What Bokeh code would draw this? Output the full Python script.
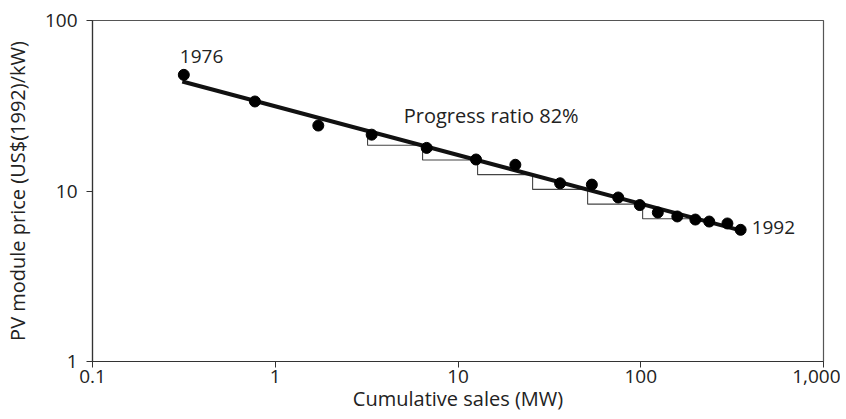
from bokeh.plotting import figure
from bokeh.models import Range1d, FixedTicker, ColumnDataSource
from bokeh.core.properties import value
from bokeh.embed import file_html
from bokeh.resources import INLINE

# Cumulative sales (MW) and PV module price (US$(1992)/kW), 1976-1992
years = list(range(1976, 1993))
sales = [0.316, 0.774, 1.72, 3.37, 6.74, 12.55, 20.6, 36.2, 54.0, 75.3, 98.8,
         124, 158.5, 199, 237, 298, 352]
price = [48.0, 33.5, 24.2, 21.4, 17.9, 15.3, 14.25, 11.1, 10.9, 9.16, 8.27,
         7.48, 7.09, 6.80, 6.62, 6.45, 5.92]

# Experience curve (progress ratio 82%) end points
fit_x = [0.31, 355]
fit_y = [43.9, 5.86]

# Staircase under the curve (each doubling of cumulative sales)
step_x = [3.2, 6.4, 12.8, 25.6, 51.2, 102.4, 204.8]
step_y = [22.6, 18.55, 15.2, 12.47, 10.22, 8.38, 6.88]

x_ticks = [0.1, 1, 10, 100, 1000]
x_tick_labels = ["0.1", "1", "10", "100", "1,000"]
y_ticks = [1, 10, 100]
y_tick_labels = ["1", "10", "100"]

FONT = "Open Sans"
TXT = "#222222"

p = figure(width=840, height=418, x_axis_type="log", y_axis_type="log",
           x_range=Range1d(0.1, 1000), y_range=Range1d(1, 100),
           output_backend="svg", toolbar_location=None,
           min_border_left=92, min_border_right=17,
           min_border_top=20, min_border_bottom=57)

p.xgrid.visible = False
p.ygrid.visible = False
p.outline_line_color = "#555555"
p.outline_line_width = 1.2
p.background_fill_color = "white"
p.border_fill_color = "white"

p.xaxis.ticker = FixedTicker(ticks=x_ticks, minor_ticks=[])
p.yaxis.ticker = FixedTicker(ticks=y_ticks, minor_ticks=[])
p.xaxis.major_label_overrides = dict(zip(x_ticks, x_tick_labels))
p.yaxis.major_label_overrides = dict(zip(y_ticks, y_tick_labels))

for ax in (p.xaxis[0], p.yaxis[0]):
    ax.axis_line_color = "#333333"
    ax.axis_line_width = 1.2
    ax.major_tick_line_color = "#333333"
    ax.major_tick_in = 0
    ax.major_tick_out = 6
    ax.minor_tick_in = 0
    ax.minor_tick_out = 0
    ax.major_label_text_font = FONT
    ax.major_label_text_font_size = "19px"
    ax.major_label_text_color = TXT
    ax.axis_label_text_font = FONT
    ax.axis_label_text_font_size = "20px"
    ax.axis_label_text_font_style = "normal"
    ax.axis_label_text_color = TXT

p.xaxis.axis_label = "Cumulative sales (MW)"
p.yaxis.axis_label = "PV module price (US$(1992)/kW)"
p.xaxis.major_label_standoff = 2
p.xaxis.axis_label_standoff = -1
p.yaxis.major_label_standoff = 9
p.yaxis.axis_label_standoff = 11

# staircase
p.step(step_x, step_y, mode="before", line_color="#444444", line_width=1.1)

# fit line
p.line(fit_x, fit_y, line_color="#111111", line_width=4)

# data points
src = ColumnDataSource(dict(x=sales, y=price, year=years))
p.scatter("x", "y", source=src, size=11, fill_color="#000000", line_color="#000000")

# year labels at the first and last points
p.text(x=[sales[0]], y=[price[0]], text=[str(years[0])], x_offset=-4, y_offset=-18,
       text_font=value(FONT), text_font_size="19px", text_color=TXT,
       text_baseline="alphabetic", text_align="left")
p.text(x=[sales[-1]], y=[price[-1]], text=[str(years[-1])], x_offset=11, y_offset=-2,
       text_font=value(FONT), text_font_size="19px", text_color=TXT,
       text_baseline="alphabetic", text_align="left")

# curve annotation
p.text(x=[5.05], y=[24.9], text=["Progress ratio 82%"], y_offset=-8,
       text_font=value(FONT), text_font_size="20px", text_color=TXT,
       text_baseline="alphabetic", text_align="left")

open("out.html", "w").write(file_html(p, INLINE))
